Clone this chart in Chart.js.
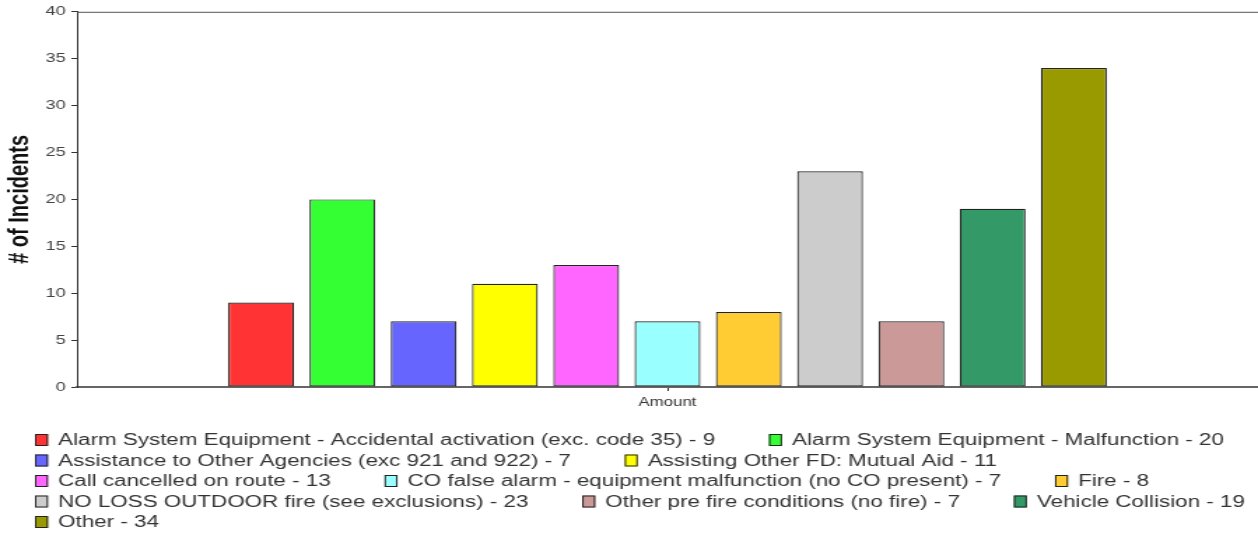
<!DOCTYPE html>
<html>
<head>
<meta charset="utf-8">
<title>Incidents by Type</title>
<script src="https://cdn.jsdelivr.net/npm/chart.js@4/dist/chart.umd.min.js"></script>
<style>
  html, body { margin: 0; padding: 0; background: #ffffff; }
  /* The canvas is laid out narrower and widened on screen, giving the wide letterforms of this report style */
  #chart { display: block; width: 1258px !important; height: 533px !important; }
</style>
</head>
<body>
<canvas id="chart" width="899" height="533" style="width:1258px;height:533px"></canvas>
<script>
// ---- data ----
const categories = ['Amount'];

const incidentTypes = [
  'Alarm System Equipment - Accidental activation (exc. code 35)',
  'Alarm System Equipment - Malfunction',
  'Assistance to Other Agencies (exc 921 and 922)',
  'Assisting Other FD: Mutual Aid',
  'Call cancelled on route',
  'CO false alarm - equipment malfunction (no CO present)',
  'Fire',
  'NO LOSS OUTDOOR fire (see exclusions)',
  'Other pre fire conditions (no fire)',
  'Vehicle Collision',
  'Other'
];

const incidentCounts = [9, 20, 7, 11, 13, 7, 8, 23, 7, 19, 34];

const barColors = [
  '#ff3333', '#33ff33', '#6666ff', '#ffff00', '#ff66ff', '#99ffff',
  '#ffcc33', '#cccccc', '#cc9999', '#339966', '#999900'
];

const yAxisMin = 0;
const yAxisMax = 40;
const yAxisStep = 5;
const yAxisTitle = '# of Incidents';

// ---- styling ----
const FONT = '"Liberation Sans", Arial, sans-serif';

const datasets = incidentTypes.map((name, i) => ({
  label: name + ' - ' + incidentCounts[i],
  data: [incidentCounts[i]],
  backgroundColor: barColors[i],
  borderColor: '#222222',
  borderWidth: 1.2,
  borderSkipped: false,
  categoryPercentage: 0.757,
  barPercentage: 0.81
}));

// thin frame line across the top of the plot
const topLinePlugin = {
  id: 'topLine',
  afterDatasetsDraw(chart) {
    const { ctx, chartArea } = chart;
    ctx.save();
    ctx.strokeStyle = '#555555';
    ctx.lineWidth = 1;
    ctx.beginPath();
    ctx.moveTo(chartArea.left, chartArea.top + 0.5);
    ctx.lineTo(chart.width, chartArea.top + 0.5);
    ctx.stroke();
    ctx.restore();
  }
};

// flowing legend below the plot: swatch + "label - value", wrapped to the chart width
const flowLegendPlugin = {
  id: 'flowLegend',
  afterDraw(chart) {
    const ctx = chart.ctx;
    const startX = 25;
    const firstRowY = 440;
    const rowStep = 20.5;
    const boxW = 9.3, boxH = 12;
    const textOffset = 16.5;
    const itemGap = 38.5;
    const maxRight = chart.width - 2;

    ctx.save();
    ctx.font = '16px ' + FONT;
    ctx.textBaseline = 'middle';
    ctx.textAlign = 'left';

    let x = startX;
    let row = 0;
    chart.data.datasets.forEach((ds, i) => {
      const tw = ctx.measureText(ds.label).width;
      const w = textOffset + tw;
      if (i > 0 && x + w > maxRight) {
        row += 1;
        x = startX;
      }
      const y = firstRowY + row * rowStep;
      ctx.fillStyle = ds.backgroundColor;
      ctx.fillRect(x, y - boxH / 2, boxW, boxH);
      ctx.strokeStyle = '#222222';
      ctx.lineWidth = 1;
      ctx.strokeRect(x + 0.5, y - boxH / 2 + 0.5, boxW - 1, boxH - 1);
      ctx.fillStyle = '#333333';
      ctx.fillText(ds.label, x + textOffset, y + 1);
      x += w + itemGap;
    });
    ctx.restore();
  }
};

new Chart(document.getElementById('chart'), {
  type: 'bar',
  data: { labels: categories, datasets },
  plugins: [topLinePlugin, flowLegendPlugin],
  options: {
    responsive: false,
    devicePixelRatio: 1,
    animation: false,
    layout: { padding: { top: 10, right: 0, bottom: 116, left: 0 } },
    plugins: {
      legend: { display: false },
      tooltip: { enabled: false }
    },
    scales: {
      x: {
        ticks: { color: '#333333', font: { size: 12, family: FONT }, padding: 4 },
        grid: { offset: false, drawOnChartArea: false, drawTicks: true, tickLength: 4, color: '#333333' },
        border: { display: true, color: '#666666', width: 2 },
        afterFit(scale) { scale.height = 30; }
      },
      y: {
        min: yAxisMin,
        max: yAxisMax,
        ticks: { stepSize: yAxisStep, color: '#444444', font: { size: 13, family: FONT }, padding: 4 },
        grid: { drawOnChartArea: false, drawTicks: true, tickLength: 4, color: '#333333' },
        border: { display: true, color: '#333333', width: 1 },
        title: {
          display: true,
          text: yAxisTitle,
          color: '#111111',
          font: { size: 20, weight: 'bold', family: FONT },
          padding: { top: 2, bottom: 0 }
        },
        afterFit(scale) { scale.width = 55; }
      }
    }
  }
});
</script>
</body>
</html>
